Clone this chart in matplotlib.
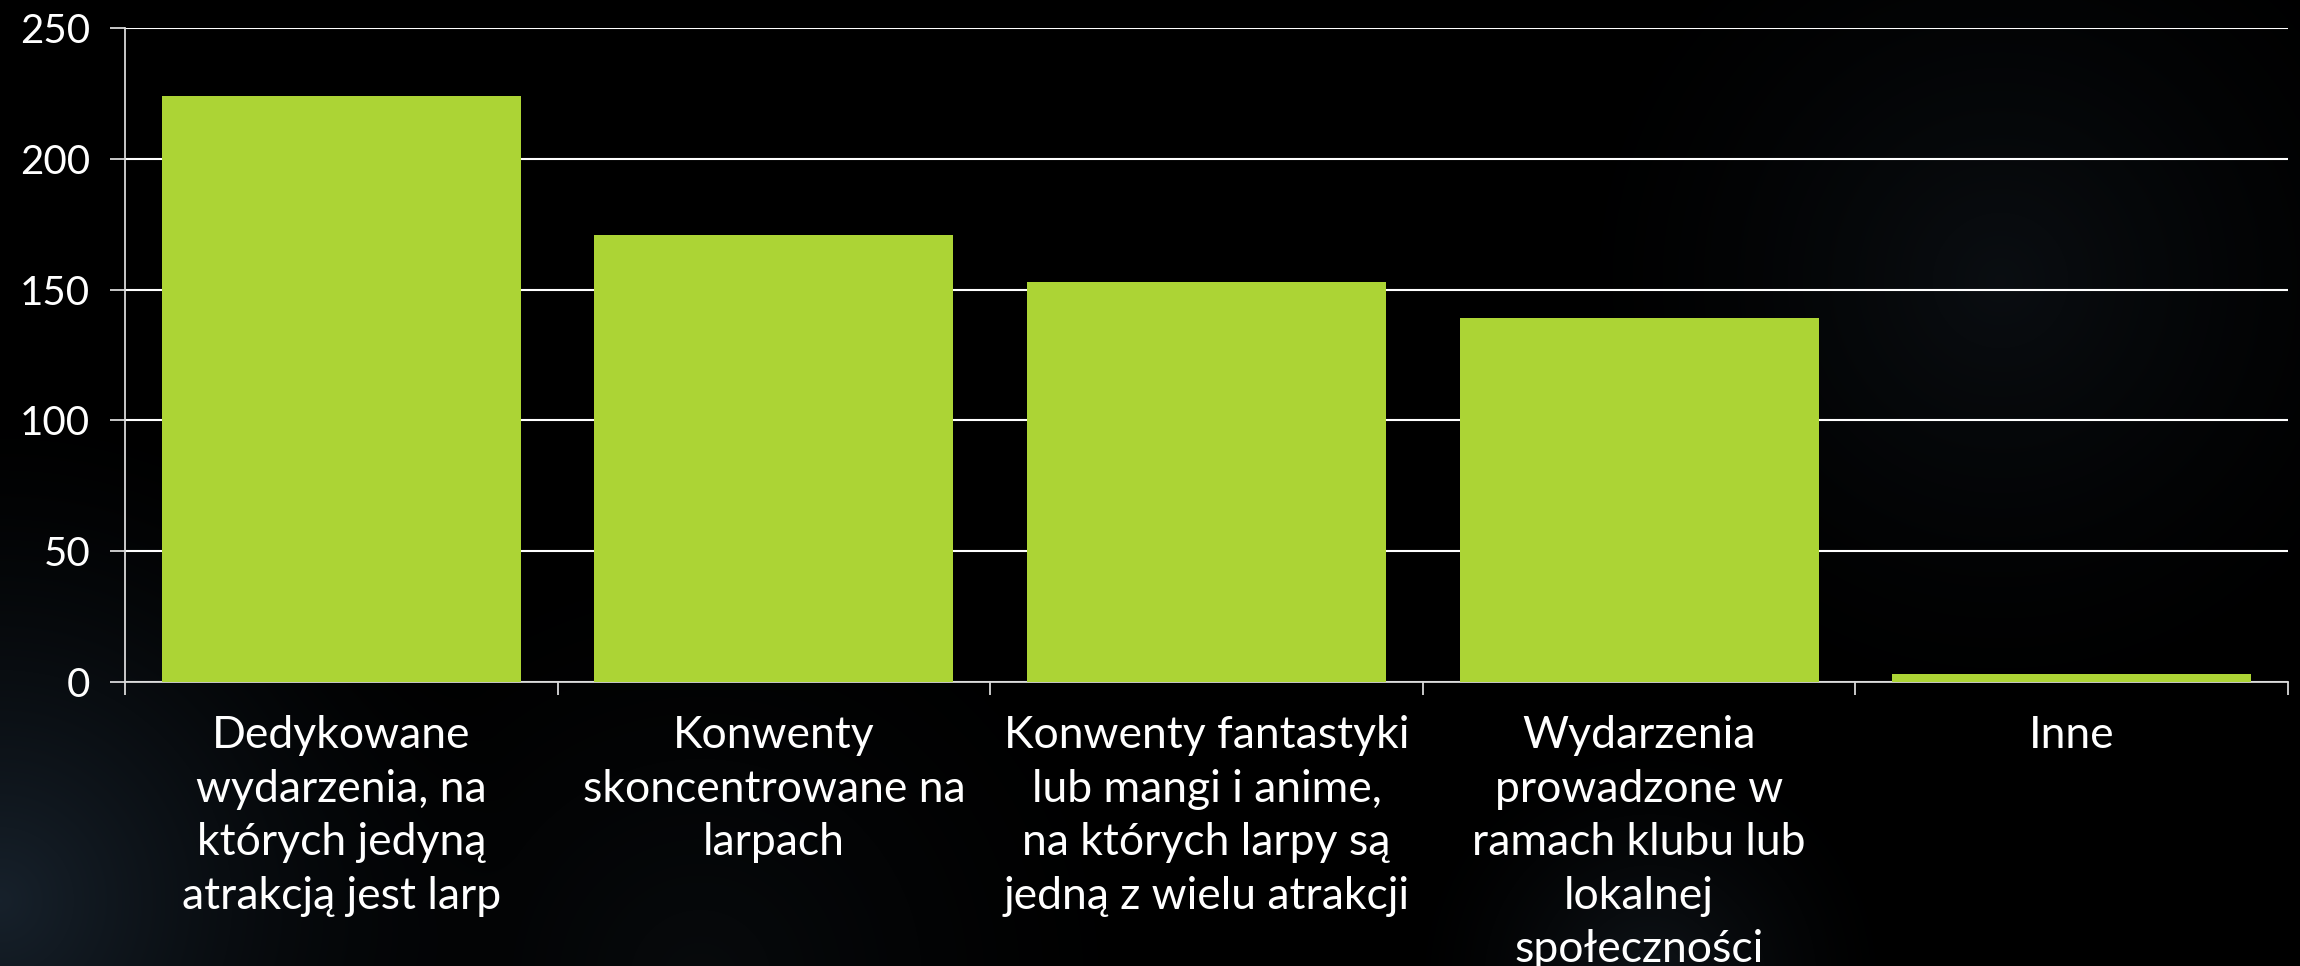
import numpy as np
import matplotlib
matplotlib.use("Agg")
import matplotlib.pyplot as plt

categories = [
    "Dedykowane\nwydarzenia, na\nktórych jedyną\natrakcją jest larp",
    "Konwenty\nskoncentrowane na\nlarpach",
    "Konwenty fantastyki\nlub mangi i anime,\nna których larpy są\njedną z wielu atrakcji",
    "Wydarzenia\nprowadzone w\nramach klubu lub\nlokalnej\nspołeczności",
    "Inne",
]
values = [224, 171, 153, 139, 3]
yticks = [0, 50, 100, 150, 200, 250]

plt.rcParams['font.family'] = ['Lato', 'DejaVu Sans']

W, H = 2300, 966
fig = plt.figure(figsize=(W / 100, H / 100), dpi=100)
fig.patch.set_facecolor('black')

# background with soft glows
bg = fig.add_axes([0, 0, 1, 1], zorder=-10)
yy, xx = np.mgrid[0:H, 0:W].astype(float)
img = np.zeros((H, W, 3))
def glow(cx, cy, r, col):
    d = np.sqrt((xx - cx) ** 2 + (yy - cy) ** 2) / r
    a = np.clip(1 - d, 0, 1) ** 1.6
    for k in range(3):
        img[..., k] += a * col[k]
glow(0, 900, 520, (0.09, 0.13, 0.17))
glow(2000, 280, 480, (0.04, 0.055, 0.07))
glow(1650, 980, 260, (0.06, 0.08, 0.10))
glow(700, 980, 500, (0.03, 0.04, 0.05))
img = np.clip(img, 0, 1)
bg.imshow(img, aspect='auto', extent=[0, W, H, 0])
bg.axis('off')

ax = fig.add_axes([125 / W, 1 - 682 / H, (2288 - 125) / W, (682 - 28) / H])
ax.patch.set_alpha(0)
x = np.arange(len(categories))
ax.bar(x, values, width=0.83, color='#acd435', zorder=3)
ax.set_xlim(-0.5, len(categories) - 0.5)
ax.set_ylim(0, 250)
ax.set_yticks(yticks)
ax.yaxis.grid(True, color='white', linewidth=1.5, zorder=1)
ax.set_axisbelow(True)

for s in ['top', 'right']:
    ax.spines[s].set_visible(False)
for s in ['left', 'bottom']:
    ax.spines[s].set_color('#d9d9d9')
    ax.spines[s].set_linewidth(1.3)

ax.set_xticks(x)
ax.set_xticklabels(categories, color='white', fontsize=32, linespacing=1.38, va='top')
ax.set_xticks(np.arange(-0.5, len(categories)), minor=True)
ax.tick_params(axis='x', which='major', length=0, pad=24)
ax.tick_params(axis='x', which='minor', length=9, width=1.3, color='#d9d9d9')
ax.tick_params(axis='y', length=11, width=1.3, color='#d9d9d9', pad=14,
               labelsize=29, labelcolor='white')

fig.savefig('out.png', dpi=100, facecolor='black')
